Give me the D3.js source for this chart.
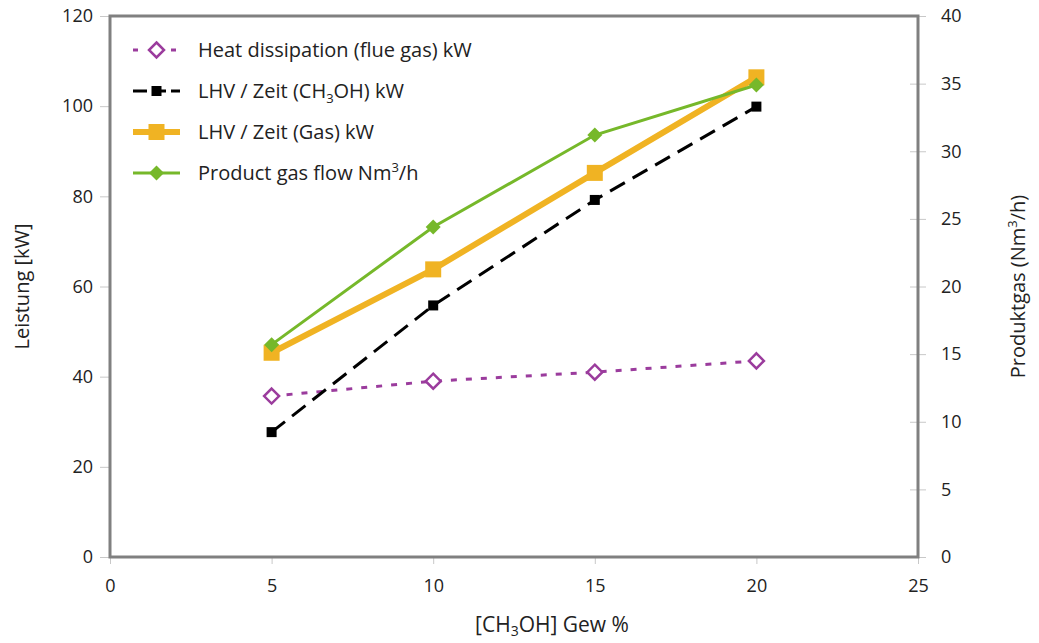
<!DOCTYPE html>
<html>
<head>
<meta charset="utf-8">
<script src="https://cdn.jsdelivr.net/npm/d3@7"></script>
<style>
  body { margin: 0; background: #fff; }
  svg text { font-family: "Open Sans", "Noto Sans", sans-serif; fill: #222; }
</style>
</head>
<body>
<svg id="chart" width="1039" height="643"></svg>
<script>
var xValues = [5, 10, 15, 20];
var heatDissipation = [35.7, 39.0, 41.0, 43.5];   // kW, left axis
var lhvMethanol = [27.7, 55.8, 79.2, 99.9];       // kW, left axis
var lhvGas = [45.3, 63.8, 85.2, 106.4];           // kW, left axis
var productGas = [15.7, 24.4, 31.2, 34.9];        // Nm3/h, right axis

var xTicks = [0, 5, 10, 15, 20, 25];
var yLeftTicks = [0, 20, 40, 60, 80, 100, 120];
var yRightTicks = [0, 5, 10, 15, 20, 25, 30, 35, 40];

var svg = d3.select("#chart"),
    plotLeft = 110, plotRight = 918, plotTop = 16, plotBottom = 557;

var x = d3.scaleLinear().domain([0, 25]).range([plotLeft, plotRight]);
var yL = d3.scaleLinear().domain([0, 120]).range([plotBottom, plotTop]);
var yR = d3.scaleLinear().domain([0, 40]).range([plotBottom, plotTop]);

// axes
var axL = svg.append("g").attr("transform", "translate(" + plotLeft + ",0)")
    .call(d3.axisLeft(yL).tickValues(yLeftTicks).tickSize(10).tickPadding(7));
var axR = svg.append("g").attr("transform", "translate(" + plotRight + ",0)")
    .call(d3.axisRight(yR).tickValues(yRightTicks).tickSize(8).tickPadding(15));
var axB = svg.append("g").attr("transform", "translate(0," + plotBottom + ")")
    .call(d3.axisBottom(x).tickValues(xTicks).tickSize(7).tickPadding(15));

[axL, axR, axB].forEach(function(g) {
  g.select(".domain").remove();
  g.selectAll(".tick line").attr("stroke", "#c8c8c8");
  g.selectAll(".tick text").style("font-size", "18px").attr("fill", "#222");
});
// right ticks also poke into the plot a little
axR.selectAll(".tick line").attr("x1", -8);

// frame
svg.append("rect")
    .attr("x", plotLeft).attr("y", plotTop)
    .attr("width", plotRight - plotLeft).attr("height", plotBottom - plotTop)
    .attr("fill", "none").attr("stroke", "#808080").attr("stroke-width", 3);

// axis titles
svg.append("text")
    .attr("transform", "translate(29," + ((plotTop + plotBottom) / 2) + ") rotate(-90)")
    .attr("text-anchor", "middle").style("font-size", "20px")
    .text("Leistung [kW]");

var rt = svg.append("text")
    .attr("transform", "translate(1025," + ((plotTop + plotBottom) / 2) + ") rotate(-90)")
    .attr("text-anchor", "middle").style("font-size", "20px");
rt.append("tspan").text("Produktgas (Nm");
rt.append("tspan").attr("dy", -8).style("font-size", "13px").text("3");
rt.append("tspan").attr("dy", 8).text("/h)");

var xt = svg.append("text")
    .attr("x", 552).attr("y", 632)
    .attr("text-anchor", "middle").style("font-size", "21px");
xt.append("tspan").text("[CH");
xt.append("tspan").attr("dy", 4).style("font-size", "14px").text("3");
xt.append("tspan").attr("dy", -4).text("OH] Gew %");

// series
var series = [
  { values: heatDissipation, y: yL, color: "#9b3c9d", width: 3, dash: "6,9", marker: "diamondOpen", size: 15 },
  { values: lhvMethanol, y: yL, color: "#000", width: 3, dash: "17,9", marker: "square", size: 10 },
  { values: lhvGas, y: yL, color: "#f0b323", width: 6, dash: null, marker: "square", size: 16 },
  { values: productGas, y: yR, color: "#76b82a", width: 3, dash: null, marker: "diamond", size: 15 }
];

function drawMarker(g, s, cx, cy) {
  var h = s.size / 2;
  if (s.marker == "square") {
    g.append("rect").attr("x", cx - h).attr("y", cy - h)
      .attr("width", s.size).attr("height", s.size).attr("fill", s.color);
  } else {
    g.append("path")
      .attr("d", "M" + cx + "," + (cy - h) + "L" + (cx + h) + "," + cy +
                 "L" + cx + "," + (cy + h) + "L" + (cx - h) + "," + cy + "Z")
      .attr("fill", s.marker == "diamond" ? s.color : "#fff")
      .attr("stroke", s.color).attr("stroke-width", s.marker == "diamond" ? 0 : 2.5);
  }
}

series.forEach(function(s) {
  var line = d3.line()
      .x(function(d, i) { return x(xValues[i]); })
      .y(function(d) { return s.y(d); });
  var g = svg.append("g");
  g.append("path").datum(s.values)
    .attr("d", line).attr("fill", "none")
    .attr("stroke", s.color).attr("stroke-width", s.width)
    .attr("stroke-dasharray", s.dash);
  s.values.forEach(function(v, i) { drawMarker(g, s, x(xValues[i]), s.y(v)); });
});

// legend
var legendLabels = [
  ["Heat dissipation (flue gas) kW"],
  ["LHV / Zeit (CH", "3", "OH) kW"],
  ["LHV / Zeit (Gas) kW"],
  ["Product gas flow Nm", "3", "/h"]
];
var legendSub = [null, "sub", null, "sup"];
var legendDash = ["5,14,5,14", "14,5,14,5", null, null];

legendLabels.forEach(function(lab, i) {
  var s = series[i], ly = 50 + i * 41;
  var g = svg.append("g");
  g.append("line").attr("x1", 133).attr("x2", 180).attr("y1", ly).attr("y2", ly)
    .attr("stroke", s.color).attr("stroke-width", s.width)
    .attr("stroke-dasharray", legendDash[i]);
  drawMarker(g, s, 156.5, ly);
  var t = g.append("text").attr("x", 198).attr("y", ly + 7).style("font-size", "20px");
  t.append("tspan").text(lab[0]);
  if (lab.length > 1) {
    var d = legendSub[i] == "sub" ? 5 : -8;
    t.append("tspan").attr("dy", d).style("font-size", "13px").text(lab[1]);
    t.append("tspan").attr("dy", -d).text(lab[2]);
  }
});
</script>
</body>
</html>
